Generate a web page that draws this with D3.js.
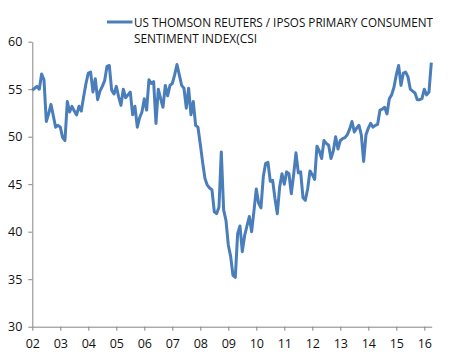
<!DOCTYPE html>
<html>
<head>
<meta charset="utf-8">
<script src="https://cdn.jsdelivr.net/npm/d3@7"></script>
<style>
  body { margin: 0; background: #fff; }
  text { font-family: "Open Sans", "Liberation Sans", sans-serif; fill: #111; }
</style>
</head>
<body>
<div id="container"></div>
<script>
/* DATA */
const seriesName = ["US THOMSON REUTERS / IPSOS PRIMARY CONSUMENT", "SENTIMENT INDEX(CSI"];
const firstYear = 2002; // monthly values starting Jan 2002
const csi = [
  54.9, 55.1, 55.3, 55.0, 56.6, 56.0, 51.6, 52.4, 53.4, 52.2, 51.0, 51.2,
  51.0, 49.9, 49.6, 53.7, 52.6, 53.2, 52.7, 52.3, 53.2, 52.7, 54.2, 55.6,
  56.7, 56.8, 54.7, 56.1, 53.9, 54.8, 55.3, 55.9, 57.4, 57.5, 54.9, 54.5,
  55.3, 54.2, 53.3, 55.0, 54.1, 54.4, 54.7, 52.3, 53.2, 51.0, 52.0, 52.6,
  54.0, 52.8, 56.0, 55.6, 55.8, 51.4, 55.0, 54.0, 53.1, 55.4, 54.3, 55.4,
  55.6, 56.5, 57.6, 56.5, 55.4, 55.1, 53.0, 55.1, 52.3, 53.7, 51.2, 51.0,
  49.2, 47.3, 45.6, 44.9, 44.6, 44.4, 42.1, 41.9, 42.6, 48.4, 42.3, 41.2,
  38.6, 37.4, 35.4, 35.2, 39.8, 40.6, 37.9, 39.6, 40.6, 41.6, 40.0, 42.2,
  44.5, 43.0, 42.5, 45.8, 47.2, 47.3, 45.3, 45.4, 43.5, 41.9, 44.7, 46.1,
  45.0, 46.3, 46.1, 44.0, 46.0, 48.3, 46.2, 46.3, 43.6, 43.3, 44.5, 46.4,
  46.0, 45.5, 49.0, 48.5, 47.7, 49.6, 49.3, 49.1, 47.7, 48.5, 50.0, 48.7,
  49.6, 49.8, 49.9, 50.2, 50.8, 51.6, 50.5, 50.9, 51.2, 50.2, 47.4, 50.2,
  50.9, 51.4, 51.0, 51.2, 51.3, 52.8, 52.9, 53.1, 52.4, 54.0, 54.4, 55.2,
  56.5, 57.5, 55.4, 56.7, 56.8, 56.3, 55.0, 54.8, 54.6, 53.9, 53.9, 54.0,
  55.0, 54.4, 54.7, 57.8
];
const yTicks = [30, 35, 40, 45, 50, 55, 60];
const xTickYears = [2002, 2003, 2004, 2005, 2006, 2007, 2008, 2009, 2010, 2011, 2012, 2013, 2014, 2015, 2016];

/* CONSTANTS */
const W = 452, H = 353;
const margin = {top: 41.7, right: 20.3, bottom: 26.3, left: 32.3};
const width = W - margin.left - margin.right;
const height = H - margin.top - margin.bottom;

const svg = d3.select("#container")
  .append("svg")
    .attr("width", W)
    .attr("height", H);

const g = svg.append("g")
  .attr("transform", "translate(" + margin.left + "," + margin.top + ")");

/* SCALES */
const x = d3.scaleLinear()
  .domain([firstYear, 2016.264])
  .range([0, width]);

const y = d3.scaleLinear()
  .domain([30, 60])
  .range([height, 0]);

const axisColor = "#868686";

/* AXES */
const xAxis = g.append("g")
  .attr("transform", "translate(0," + height + ")")
  .call(d3.axisBottom(x)
    .tickValues(xTickYears)
    .tickFormat(d => d3.format("02d")(d % 100))
    .tickSize(4)
    .tickPadding(8)
    .tickSizeOuter(0));

const yAxis = g.append("g")
  .call(d3.axisLeft(y)
    .tickValues(yTicks)
    .tickSize(4)
    .tickPadding(6)
    .tickSizeOuter(0));

[xAxis, yAxis].forEach(a => {
  a.select(".domain").attr("stroke", axisColor);
  a.selectAll(".tick line").attr("stroke", axisColor);
  a.selectAll("text").style("font-size", "12.5px").attr("fill", "#111");
});

/* LINE */
const line = d3.line()
  .x((d, i) => x(firstYear + i / 12))
  .y(d => y(d));

g.append("path")
  .datum(csi)
  .attr("fill", "none")
  .attr("stroke", "#4a7ebb")
  .attr("stroke-width", 3)
  .attr("stroke-linejoin", "round")
  .attr("d", line);

/* LEGEND */
const legend = svg.append("g");
legend.append("line")
  .attr("x1", 107).attr("x2", 132.5)
  .attr("y1", 22).attr("y2", 22)
  .attr("stroke", "#4a7ebb")
  .attr("stroke-width", 3);

legend.selectAll("text.leg")
  .data(seriesName)
  .join("text")
  .attr("class", "leg")
  .attr("x", 134)
  .attr("y", (d, i) => 26.5 + i * 16.5)
  .style("font-size", "12px")
  .attr("textLength", (d, i) => i === 0 ? 299 : 123)
  .attr("lengthAdjust", "spacingAndGlyphs")
  .text(d => d);
</script>
</body>
</html>
